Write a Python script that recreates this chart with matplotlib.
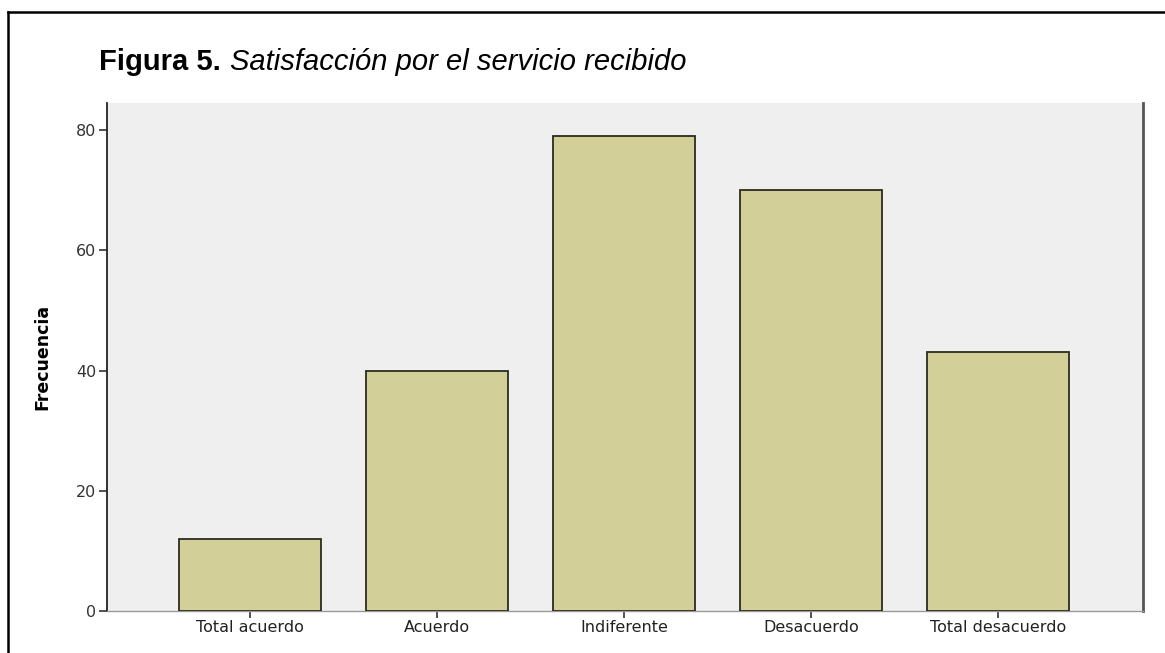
import matplotlib.pyplot as plt
from matplotlib.lines import Line2D
import numpy as np

categorias = ['Total acuerdo', 'Acuerdo', 'Indiferente', 'Desacuerdo', 'Total desacuerdo']
frecuencias = [12, 40, 79, 70, 43]
yticks = [0, 20, 40, 60, 80]

plt.rcParams['font.family'] = ['Liberation Sans', 'DejaVu Sans']

fig = plt.figure(figsize=(11.65, 6.53), dpi=100)
ax = fig.add_axes([107/1165, 1 - 611/653, (1143-107)/1165, (611-103)/653])
ax.set_facecolor('#efefef')

x = np.arange(len(categorias))
ax.bar(x, frecuencias, width=0.755, color='#d2cf98', edgecolor='#2b2b20', linewidth=1.3, zorder=3)

ax.set_xlim(-0.765, 4.775)
ax.set_ylim(0, 84.5)
ax.set_xticks(x)
ax.set_xticklabels(categorias, fontsize=11.5, color='#222222', family='DejaVu Sans')
ax.set_yticks(yticks)
ax.set_yticklabels([str(v) for v in yticks], fontsize=11.5, color='#333333', family='DejaVu Sans')
ax.tick_params(axis='both', direction='out', length=6, width=1.2, color='#333333', pad=1.5)
ax.tick_params(axis='x', length=5)

ax.spines['top'].set_visible(False)
ax.spines['left'].set_color('#222222')
ax.spines['left'].set_linewidth(1.3)
ax.spines['bottom'].set_color('#9a9a9a')
ax.spines['bottom'].set_linewidth(1.0)
ax.spines['right'].set_color('#555555')
ax.spines['right'].set_linewidth(2.0)

ax.set_ylabel('Frecuencia', fontsize=12.5, fontweight='bold', labelpad=18,
              family=['DejaVu Sans Condensed', 'DejaVu Sans'])

# titulo de la figura: parte en negrita y parte en cursiva
t1 = fig.text(99/1165, 1 - 62/653, 'Figura 5.', fontsize=21, fontweight='bold', va='center', ha='left')
fig.canvas.draw()
bb = t1.get_window_extent()
fig.text((bb.x1 + 9) / 1165, 1 - 62/653, 'Satisfacción por el servicio recibido',
         fontsize=21, style='italic', va='center', ha='left')

# marco exterior
fig.add_artist(Line2D([8/1165, 8/1165], [0, 1 - 12/653], color='black', linewidth=1.8, transform=fig.transFigure))
fig.add_artist(Line2D([8/1165, 1], [1 - 12/653, 1 - 12/653], color='black', linewidth=1.8, transform=fig.transFigure))

fig.savefig('out.png', dpi=100)
